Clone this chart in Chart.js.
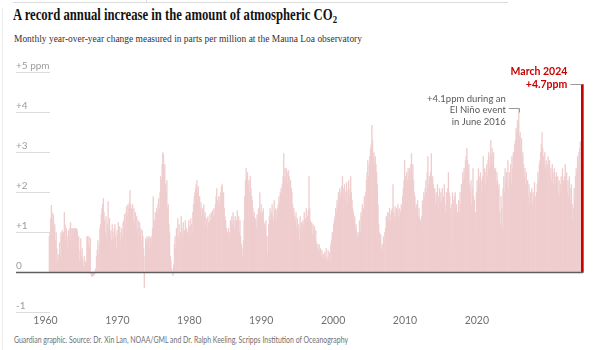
<!DOCTYPE html>
<html>
<head>
<meta charset="utf-8">
<script src="https://cdn.jsdelivr.net/npm/chart.js@4.4.1/dist/chart.umd.min.js"></script>
<style>
  body { margin: 0; background: #fff; width: 600px; height: 350px; overflow: hidden; position: relative; }
  .rule { position: absolute; left: 13px; top: 2px; width: 495px; height: 1px; background: #dcdcdc; }
  .notch { position: absolute; left: 146px; top: 0; width: 1px; height: 3px; background: #dcdcdc; }
  .edge { position: absolute; left: 2px; top: 8px; width: 1px; height: 342px; background: #ededed; }
  .txt { position: absolute; margin: 0; white-space: nowrap; transform-origin: 0 0; }
  #title { left: 13px; top: 7px; font: bold 16px/16px "Liberation Serif", serif; color: #121212; }
  #title sub { font-size: 11px; vertical-align: -3px; line-height: 0; }
  #subtitle { left: 14px; top: 33.5px; font: 10.5px/10.5px "Liberation Serif", serif; color: #333; }
  #source { left: 14px; top: 336px; font: 8.5px/8.5px Lato, sans-serif; color: #707070; }
  canvas { position: absolute; left: 0; top: 0; }
</style>
</head>
<body>
<div class="rule"></div><div class="notch"></div><div class="edge"></div>
<h1 id="title" class="txt">A record annual increase in the amount of atmospheric CO<sub>2</sub></h1>
<p id="subtitle" class="txt">Monthly year-over-year change measured in parts per million at the Mauna Loa observatory</p>
<p id="source" class="txt">Guardian graphic. Source: Dr. Xin Lan, NOAA/GML and Dr. Ralph Keeling, Scripps Institution of Oceanography</p>
<canvas id="chart" width="600" height="350"></canvas>
<script>
// data: year-over-year change (ppm), one row per year, first value is March 1959
const firstYear = 1959, firstMonth = 3;
const monthlyChange = [
  0.90, 1.00, 1.35, 1.68, 1.50, 1.30, 1.45, 1.10, 1.20, 0.80,
  1.00, 0.60, 0.30, 0.45, 0.25, 0.75, 0.40, 1.00, 0.90, 1.05, 0.70, 1.00,
  1.50, 1.20, 0.80, 1.10, 0.90, 0.60, 1.05, 0.80, 1.10, 1.25, 1.10, 0.90,
  1.10, 1.10, 0.70, 1.10, 1.10, 0.50, 1.10, 1.05, 0.60, 0.90, 0.30, 0.55,
  0.85, 0.40, 0.60, 0.30, 0.15, 0.40, 0.10, 0.25, 0.30, 0.90, 0.90, 0.70,
  0.90, 0.60, 0.85, -0.05, -0.10, -0.10, 0.02, -0.08, -0.05, 0.05, 0.10, 0.40,
  0.55, 0.80, 0.45, 0.70, 1.10, 1.20, 1.45, 1.60, 1.70, 1.85, 1.50, 1.30,
  1.00, 1.40, 0.85, 1.20, 1.77, 1.10, 1.35, 0.90, 1.05, 0.80, 1.20, 1.00,
  0.85, 1.10, 1.20, 0.90, 0.60, 1.05, 0.95, 1.25, 0.90, 1.15, 0.80, 1.00,
  1.10, 0.90, 1.25, 1.30, 1.45, 1.20, 1.50, 1.65, 1.40, 1.70, 1.60, 1.75,
  2.05, 1.70, 1.60, 1.55, 1.70, 1.30, 1.60, 1.20, 1.50, 1.00, 1.40, 1.10,
  1.30, 0.90, 1.25, 1.00, 1.10, 0.80, 1.05, 0.90, 0.60, -0.38, 0.40, 0.85,
  0.80, 0.90, 0.75, 0.85, 0.90, 0.60, 0.85, 0.90, 0.70, 1.10, 1.90, 1.30,
  1.30, 1.50, 1.20, 1.60, 1.45, 1.70, 1.85, 1.60, 2.00, 2.40, 2.30, 2.70,
  3.00, 2.95, 2.50, 2.70, 2.20, 2.00, 2.30, 1.60, 1.70, 1.20, 1.00, 0.40,
  0.30, 0.10, 0.05, -0.08, 0.20, 0.70, 0.90, 0.60, 1.10, 0.80, 1.35, 0.90,
  1.20, 0.80, 1.00, 1.40, 1.10, 0.90, 1.25, 0.70, 1.05, 1.30, 0.95, 1.10,
  1.00, 0.90, 1.30, 1.15, 0.95, 1.35, 1.20, 1.00, 1.50, 1.70, 1.90, 2.00,
  2.10, 2.20, 2.30, 2.00, 2.15, 1.80, 1.90, 1.60, 1.75, 1.40, 1.60, 1.50,
  1.70, 1.40, 1.50, 1.20, 1.35, 1.10, 1.40, 1.25, 1.20, 1.45, 1.30, 1.50,
  1.30, 1.55, 1.40, 1.60, 1.45, 1.70, 1.90, 2.10, 1.80, 1.60, 1.90, 1.70,
  1.90, 2.00, 2.15, 2.20, 1.80, 2.00, 1.60, 1.40, 1.30, 1.10, 0.90, 1.00,
  1.10, 0.75, 1.00, 1.30, 1.15, 1.40, 1.20, 1.50, 1.30, 1.10, 1.40, 1.25,
  1.30, 1.55, 1.20, 1.40, 1.00, 1.30, 0.90, 0.70, 0.60, 0.40, 0.80, 1.30,
  1.90, 2.30, 2.60, 2.40, 2.50, 2.20, 2.30, 2.00, 2.40, 2.10, 1.90, 1.80,
  1.60, 1.40, 1.50, 1.20, 1.35, 1.10, 1.45, 1.30, 1.60, 1.40, 2.00, 1.50,
  1.70, 1.30, 1.50, 1.60, 1.25, 1.20, 1.10, 1.30, 0.90, 0.45, 0.90, 1.20,
  1.40, 1.60, 1.30, 1.50, 1.70, 1.40, 1.30, 1.80, 1.50, 1.60, 1.35, 1.55,
  1.60, 1.70, 1.90, 1.75, 2.00, 2.10, 1.95, 2.20, 2.40, 2.97, 2.40, 2.60,
  2.30, 2.60, 2.50, 2.20, 2.55, 2.40, 2.00, 2.30, 2.10, 2.00, 1.70, 1.50,
  1.60, 1.40, 1.30, 1.50, 1.10, 1.35, 1.00, 1.20, 0.80, 1.40, 1.10, 1.25,
  1.00, 1.30, 1.20, 1.50, 1.10, 1.35, 1.60, 1.25, 1.40, 1.55, 2.40, 1.60,
  1.30, 1.10, 1.25, 0.95, 1.20, 1.00, 1.15, 0.80, 1.05, 0.75, 0.60, 0.70,
  0.55, 0.70, 0.50, 0.60, 0.40, 0.55, 0.35, 0.45, 0.30, 0.50, 0.35, 0.60,
  0.40, 0.30, 0.55, 0.35, 0.50, 0.30, 0.70, 0.80, 1.00, 0.90, 1.20, 1.30,
  1.40, 1.60, 1.50, 1.80, 1.70, 2.00, 1.75, 2.10, 1.90, 2.00, 2.15, 2.40,
  2.10, 1.90, 2.20, 1.80, 2.00, 2.25, 1.70, 2.05, 2.30, 1.90, 2.10, 2.40,
  2.00, 1.80, 1.60, 1.50, 1.30, 1.40, 1.10, 1.20, 1.00, 0.90, 1.00, 0.65,
  1.30, 1.00, 1.50, 1.40, 1.70, 1.30, 1.60, 1.90, 1.50, 2.00, 2.30, 2.50,
  2.80, 2.40, 2.70, 2.90, 3.10, 3.20, 3.68, 3.30, 2.90, 3.00, 2.70, 2.90,
  2.70, 2.50, 2.20, 1.70, 1.20, 1.00, 0.80, 0.95, 0.60, 0.70, 0.52, 0.90,
  0.70, 1.00, 1.10, 1.40, 1.20, 1.50, 1.30, 1.50, 1.60, 1.30, 1.45, 1.55,
  1.60, 2.20, 1.50, 1.40, 1.65, 1.35, 1.60, 1.50, 1.70, 1.40, 1.60, 1.55,
  1.50, 1.70, 1.60, 1.90, 2.10, 2.30, 2.80, 2.40, 2.20, 2.50, 2.30, 2.60,
  2.40, 2.60, 2.30, 2.70, 2.97, 2.50, 2.70, 2.30, 2.00, 1.90, 1.60, 1.70,
  1.50, 1.80, 1.40, 1.60, 1.35, 1.30, 1.15, 1.40, 1.80, 1.70, 2.00, 1.90,
  2.10, 2.30, 2.00, 2.50, 2.90, 2.20, 2.40, 2.10, 2.50, 2.97, 2.30, 2.40,
  2.20, 1.90, 2.10, 1.70, 2.00, 1.80, 2.20, 1.60, 1.90, 2.10, 1.75, 2.00,
  1.80, 2.10, 1.60, 1.90, 2.20, 1.70, 1.50, 2.00, 1.80, 2.10, 2.50, 2.00,
  1.90, 1.60, 0.65, 1.70, 2.00, 1.80, 1.50, 1.90, 2.00, 1.60, 1.70, 1.50,
  1.40, 1.80, 1.50, 2.00, 1.70, 2.20, 2.00, 2.50, 2.30, 2.60, 2.40, 2.80,
  2.90, 3.10, 2.80, 2.50, 2.70, 2.20, 2.00, 2.30, 1.70, 2.10, 2.60, 1.90,
  1.80, 1.05, 1.50, 2.00, 2.30, 2.10, 2.60, 2.40, 2.20, 2.50, 2.00, 2.30,
  2.40, 2.90, 2.30, 2.60, 2.20, 2.50, 2.70, 2.40, 2.80, 3.00, 2.60, 2.90,
  3.30, 2.90, 3.10, 2.70, 3.00, 2.60, 2.40, 2.60, 2.20, 2.50, 2.30, 2.10,
  2.20, 1.50, 1.20, 1.90, 1.60, 1.10, 2.10, 2.40, 2.00, 2.60, 2.20, 2.50,
  2.30, 2.80, 2.10, 2.50, 2.40, 2.70, 2.20, 2.90, 2.60, 3.00, 2.90, 3.20,
  3.30, 3.60, 3.50, 3.80, 3.70, 4.10, 3.40, 3.50, 3.10, 3.35, 2.90, 3.00,
  2.70, 2.40, 2.60, 2.20, 2.50, 2.10, 2.30, 1.90, 2.20, 1.70, 2.00, 1.80,
  2.10, 1.70, 2.00, 1.80, 2.25, 1.90, 1.60, 2.00, 2.20, 2.50, 2.30, 2.70,
  2.80, 3.00, 3.20, 3.50, 3.10, 2.90, 2.70, 3.00, 2.60, 2.80, 2.50, 2.70,
  2.90, 2.50, 2.80, 2.40, 2.60, 2.30, 2.70, 2.50, 2.20, 2.60, 2.40, 2.20,
  2.50, 2.10, 2.40, 2.00, 2.30, 1.90, 2.20, 2.40, 2.00, 2.60, 2.30, 2.10,
  2.40, 2.70, 2.20, 2.50, 2.00, 2.30, 1.90, 2.40, 2.10, 1.80, 2.20, 1.70,
  1.30, 1.60, 2.10, 1.80, 2.40, 2.60, 2.50, 2.90, 2.70, 3.00, 3.10, 3.27,
  3.00, 3.20, 4.70
];
const yearTicks = [1960, 1970, 1980, 1990, 2000, 2010, 2020];
const ppmTicks = [-1, 0, 1, 2, 3, 4, 5];
const ppmLabels = ['-1', '0', '+1', '+2', '+3', '+4', '+5 ppm'];
const peakYear = 2016, peakMonth = 6;
const peakNote = ['+4.1ppm during an', 'El Niño event', 'in June 2016'];
const latestNote = ['March 2024', '+4.7ppm'];

const RED = '#c70000';
const PINK = '#efcdce';

// squeeze the condensed Guardian type into the same widths
function fitWidth(id, px) {
  const el = document.getElementById(id);
  const w = el.getBoundingClientRect().width;
  el.style.transform = `scaleX(${px / w})`;
}
fitWidth('title', 324);
fitWidth('subtitle', 348);
fitWidth('source', 334);

const points = monthlyChange.map((v, i) => ({ x: firstYear + (firstMonth - 1 + i + 0.5) / 12, y: v }));
const latest = points[points.length - 1];
const peak = points[(peakYear - firstYear) * 12 + (peakMonth - firstMonth)];

const furniture = {
  id: 'furniture',
  beforeDatasetsDraw(chart) {
    const { ctx, chartArea: a, scales: { y } } = chart;
    ctx.save();
    ctx.strokeStyle = '#dcdcdc';
    ctx.lineWidth = 1;
    ppmTicks.forEach(v => {
      if (v === 0) return;
      const py = Math.floor(y.getPixelForValue(v)) + 0.5;
      ctx.beginPath(); ctx.moveTo(a.left, py); ctx.lineTo(a.left + 34, py); ctx.stroke();
    });
    ctx.restore();
  },
  afterDatasetsDraw(chart) {
    const { ctx, chartArea: a, scales: { x, y } } = chart;
    ctx.save();
    // zero line
    const zy = Math.floor(y.getPixelForValue(0)) + 0.5;
    ctx.strokeStyle = '#5f5f5f';
    ctx.lineWidth = 1.5;
    ctx.beginPath(); ctx.moveTo(a.left, zy); ctx.lineTo(a.right - 1, zy); ctx.stroke();

    // El Niño note
    let px = x.getPixelForValue(peak.x), py = y.getPixelForValue(peak.y);
    ctx.font = '9.5px Lato, sans-serif';
    ctx.fillStyle = '#595959';
    ctx.textAlign = 'right';
    ctx.textBaseline = 'middle';
    peakNote.forEach((t, i) => ctx.fillText(t, px - 13, py - 10 + i * 11.5));
    ctx.strokeStyle = '#9a9a9a';
    ctx.lineWidth = 1;
    ctx.beginPath();
    ctx.moveTo(px - 10, Math.floor(py) + 0.5);
    ctx.lineTo(Math.round(px) + 0.5, Math.floor(py) + 0.5);
    ctx.lineTo(Math.round(px) + 0.5, py + 4);
    ctx.stroke();

    // latest value note
    px = x.getPixelForValue(latest.x); py = y.getPixelForValue(latest.y);
    ctx.font = 'bold 10.5px Lato, sans-serif';
    ctx.fillStyle = RED;
    ctx.fillText(latestNote[0], px - 15, py - 12.5);
    ctx.fillText(latestNote[1], px - 15, py);
    ctx.beginPath();
    ctx.moveTo(px - 12, Math.floor(py) + 0.5);
    ctx.lineTo(px - 1, Math.floor(py) + 0.5);
    ctx.stroke();
    ctx.restore();
  }
};

new Chart(document.getElementById('chart'), {
  type: 'bar',
  data: {
    datasets: [
      {
        data: [latest],
        backgroundColor: RED,
        barThickness: 2,
        grouped: false,
        order: 0
      },
      {
        data: points,
        backgroundColor: PINK,
        borderWidth: 0,
        barPercentage: 1,
        categoryPercentage: 1,
        grouped: false,
        order: 1
      }
    ]
  },
  options: {
    responsive: false,
    devicePixelRatio: 1,
    animation: false,
    layout: { padding: { left: 16, right: 16, top: 72.5, bottom: 17.5 } },
    plugins: { legend: { display: false }, tooltip: { enabled: false }, title: { display: false } },
    scales: {
      x: {
        type: 'linear', display: false, offset: false, bounds: 'data',
        min: 1955.142, max: 2024.41
      },
      // year labels sit on their own axis, spaced as in the original graphic
      yr: {
        type: 'linear', position: 'bottom', offset: false, bounds: 'data',
        min: 1955.897, max: 2034.9,
        afterBuildTicks: s => { s.ticks = yearTicks.map(v => ({ value: v })); },
        afterFit: s => { s.height = 20; },
        grid: { display: false, drawTicks: false, offset: false },
        border: { display: false },
        ticks: {
          autoSkip: false, maxRotation: 0, padding: 2,
          color: '#707070', font: { family: 'Lato', size: 10.5 },
          callback: v => String(v)
        }
      },
      y: {
        type: 'linear', position: 'left',
        min: -1, max: 5,
        afterBuildTicks: s => { s.ticks = ppmTicks.map(v => ({ value: v })); },
        afterFit: s => { s.width = 0; },
        grid: { display: false, drawTicks: false },
        border: { display: false },
        ticks: {
          mirror: true, padding: 0, labelOffset: -7,
          color: '#9d9d9d', font: { family: 'Lato', size: 10 },
          callback: v => ppmLabels[ppmTicks.indexOf(v)]
        }
      }
    }
  },
  plugins: [furniture]
});
</script>
</body>
</html>
